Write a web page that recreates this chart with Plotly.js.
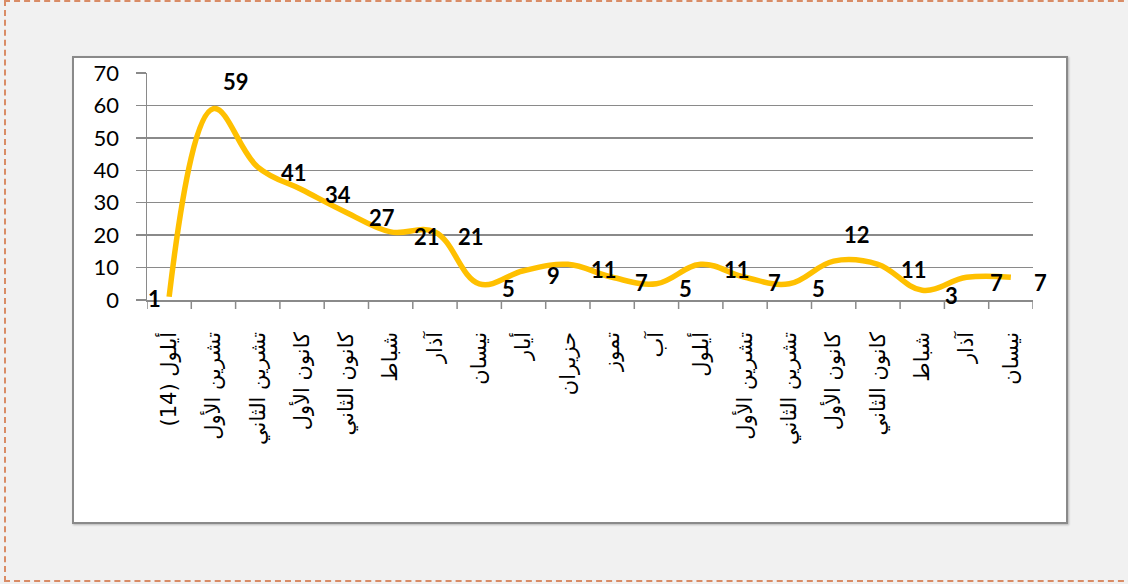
<!DOCTYPE html>
<html>
<head>
<meta charset="utf-8">
<script src="https://cdn.plot.ly/plotly-3.0.1.min.js"></script>
<style>
  html, body { margin:0; padding:0; width:1128px; height:584px; overflow:hidden; background:#f1f1f1; }
  #frame { position:absolute; left:4px; top:0px; width:1140px; height:582px; box-sizing:border-box;
           border:2px dashed #d98c66; }
  #box { position:absolute; left:72px; top:56px; width:996px; height:468px; box-sizing:border-box;
         border:2px solid #8a8a8a; background:#fff; box-shadow:1px 1px 2px rgba(0,0,0,0.25); }
  #chart { position:absolute; left:0; top:0; width:992px; height:464px; }
</style>
</head>
<body>
<div id="frame"></div>
<div id="box"><div id="chart"></div></div>
<script>
// Data
const categories = [
  "أيلول (14)", "تشرين الأول", "تشرين الثاني", "كانون الأول", "كانون الثاني",
  "شباط", "آذار", "نيسان", "أيار", "حزيران", "تموز", "آب", "أيلول",
  "تشرين الأول", "تشرين الثاني", "كانون الأول", "كانون الثاني", "شباط", "آذار", "نيسان"
];
const values = [1, 59, 41, 34, 27, 21, 21, 5, 9, 11, 7, 5, 11, 7, 5, 12, 11, 3, 7, 7];
const yTicks = [0, 10, 20, 30, 40, 50, 60, 70];

// Label placement style (Excel-like data label positions)
const labelPos = ["left","above","right","right","right","right","right","right","right","right",
                  "right","right","right","right","right","above","right","right","right","right"];

const xs = categories.map((c, i) => i);

const trace = {
  x: xs,
  y: values,
  type: 'scatter',
  mode: 'lines',
  line: { color: '#FFC000', width: 5.5, shape: 'spline', smoothing: 1.1 },
  hoverinfo: 'skip'
};

const labelFont = { family: 'Lato, "Open Sans", sans-serif', size: 22, color: '#000', weight: 'bold' };
const annotations = values.map((v, i) => {
  const p = labelPos[i];
  const a = { x: i, y: v, xref: 'x', yref: 'y', text: '<b>' + v + '</b>', showarrow: false, font: labelFont };
  if (p === 'left') { a.xanchor = 'right'; a.xshift = -6; a.yshift = -2; }
  else if (p === 'above') { a.xanchor = 'center'; a.xshift = 23; a.yshift = 27; }
  else { a.xanchor = 'left'; a.xshift = 21; a.yshift = -5; }
  return a;
});

const layout = {
  width: 992, height: 464,
  margin: { l: 73, r: 33, t: 15, b: 222 },
  paper_bgcolor: '#ffffff',
  plot_bgcolor: '#ffffff',
  showlegend: false,
  xaxis: {
    type: 'linear',
    range: [-0.5, 19.5],
    tickmode: 'array',
    tickvals: xs,
    ticktext: categories,
    tickangle: -90,
    showgrid: false,
    zeroline: false,
    showline: true, linecolor: '#8a8a8a', linewidth: 1.5,
    ticks: '',
    ticklabelstandoff: 22,
    tickfont: { family: '"DejaVu Sans", sans-serif', size: 21, color: '#000' }
  },
  yaxis: {
    range: [0, 70],
    tickmode: 'array',
    tickvals: yTicks,
    ticktext: yTicks.map(String),
    showgrid: true, gridcolor: '#8a8a8a', gridwidth: 1.5,
    zeroline: false,
    showline: true, linecolor: '#8a8a8a', linewidth: 1.5,
    ticks: 'outside', ticklen: 10, tickcolor: '#8a8a8a', tickwidth: 1.5,
    ticklabelstandoff: 12,
    tickfont: { family: 'Lato, "Open Sans", sans-serif', size: 22, color: '#000' }
  },
  annotations: annotations
};

// boundary tick marks on the category axis
layout.shapes = xs.concat([-1]).map(i => ({
  type: 'line', xref: 'x', yref: 'paper', ysizemode: 'pixel', yanchor: 0,
  x0: i + 0.5, x1: i + 0.5, y0: 0, y1: -9,
  line: { color: '#8a8a8a', width: 1.5 }
}));

Plotly.newPlot('chart', [trace], layout, { displayModeBar: false, staticPlot: true });
</script>
</body>
</html>
